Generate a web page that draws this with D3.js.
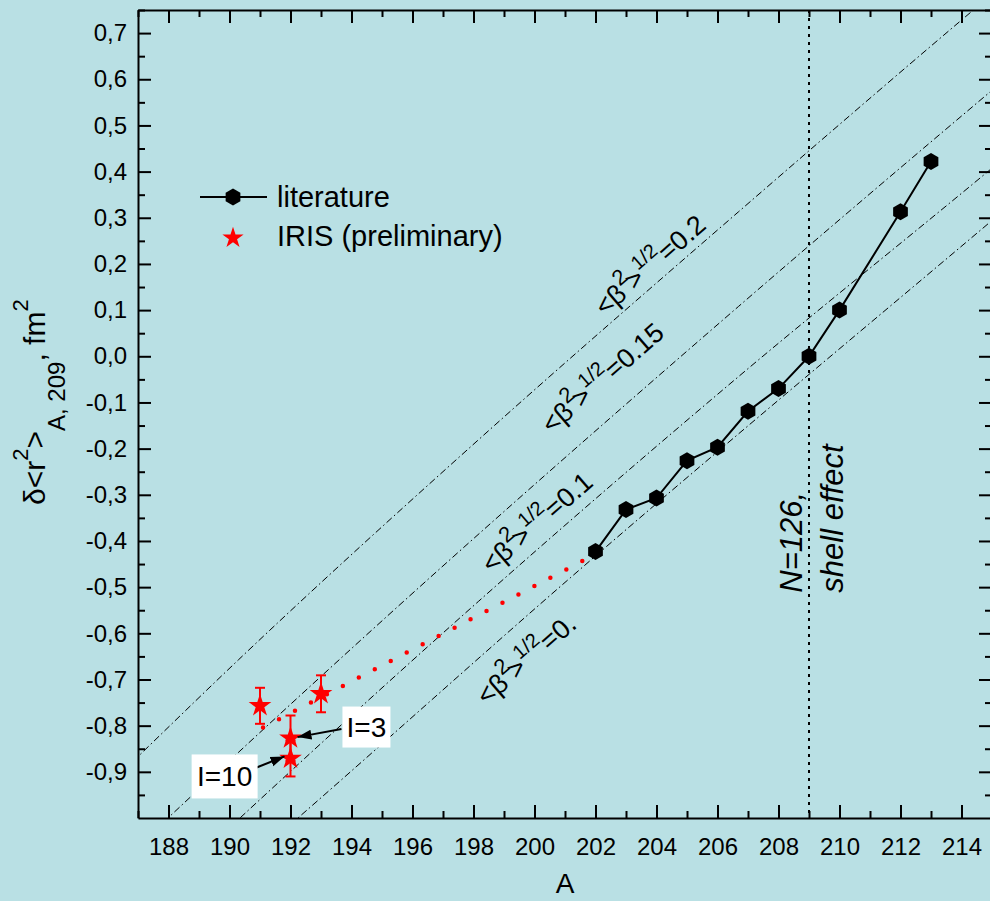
<!DOCTYPE html>
<html lang="en">
<head>
<meta charset="UTF-8">
<title>charge radii</title>
<style>
  body { margin: 0; background: #b9e0e4; }
  svg { display: block; font-family: "Liberation Sans", Arial, sans-serif; }
  .axis path, .axis line { stroke: #000; stroke-width: 2; }
  .axis text { font-family: "Liberation Sans", Arial, sans-serif; font-size: 24px; fill: #000; }
  .beta { fill: none; stroke: #000; stroke-width: 1; stroke-dasharray: 7,3,1.5,3; }
  .lbl { font-size: 27px; fill: #000; }
</style>
</head>
<body>
<svg width="990" height="901"></svg>
<script src="https://cdn.jsdelivr.net/npm/d3@7"></script>
<script>
// literature
var litA = [202, 203, 204, 205, 206, 207, 208, 209, 210, 212, 213];
var litR = [-0.423, -0.332, -0.307, -0.226, -0.197, -0.119, -0.070, 0.0, 0.100, 0.313, 0.422];

// IRIS (preliminary)
var irisA = [191, 192, 192, 193];
var irisR = [-0.757, -0.827, -0.871, -0.731];
var irisErr = [0.039, 0.049, 0.039, 0.040];

// red dotted trend
var trendA = [191.1, 201.7];
var trendR = [-0.804, -0.439];

// lines of constant <beta^2>^1/2
var betaNames = ["0.2", "0.15", "0.1", "0."];
var betaA = [
  [186.5, 187, 190.3, 198.16, 206.69, 214.39, 215.5],
  [187.5, 188, 194, 206.69, 214.89, 215.5],
  [190, 190.36, 198.16, 206.69, 214.89, 215.5],
  [192, 192.26, 201.17, 214.89, 215.5]
];
var betaR = [
  [-0.899, -0.867, -0.657, -0.181, 0.313, 0.750, 0.812],
  [-1.030, -0.999, -0.633, 0.108, 0.570, 0.604],
  [-1.021, -0.999, -0.531, -0.044, 0.4015, 0.435],
  [-1.014, -0.999, -0.480, 0.288, 0.322]
];

var xTicks = d3.range(188, 215, 2),
    xMinor = d3.range(187, 216, 2),
    yTicks = d3.range(-9, 8).map(function(i) { return i / 10; }),
    yMinor = d3.range(-19, 16, 2).map(function(i) { return i / 20; });

var svg = d3.select("svg"),
    mLeft = 138, mRight = 992, mTop = 10, mBottom = 818;

var x = d3.scaleLinear().domain([187, 215]).range([mLeft, mRight]),
    y = d3.scaleLinear().domain([-1.0, 0.75]).range([mBottom, mTop]);

svg.append("rect").attr("width", 990).attr("height", 901).attr("fill", "#b9e0e4");

var defs = svg.append("defs");
defs.append("clipPath").attr("id", "clip")
  .append("rect").attr("x", mLeft).attr("y", mTop)
  .attr("width", mRight - mLeft).attr("height", mBottom - mTop);

defs.append("marker")
  .attr("id", "head").attr("viewBox", "0 0 10 10")
  .attr("refX", 10).attr("refY", 5)
  .attr("markerWidth", 7).attr("markerHeight", 7)
  .attr("markerUnits", "strokeWidth")
  .attr("orient", "auto")
  .append("path").attr("d", "M0,1.5L10,5L0,8.5Z").attr("fill", "#000");

var plot = svg.append("g").attr("clip-path", "url(#clip)");

// beta lines
var bline = d3.line().curve(d3.curveMonotoneX)
  .x(function(d) { return x(d[0]); })
  .y(function(d) { return y(d[1]); });

betaA.forEach(function(arr, k) {
  plot.append("path").attr("class", "beta")
    .attr("d", bline(arr.map(function(a, i) { return [a, betaR[k][i]]; })));
});

// N=126 vertical
plot.append("line")
  .attr("x1", x(209)).attr("x2", x(209))
  .attr("y1", mTop).attr("y2", mBottom)
  .attr("stroke", "#000").attr("stroke-width", 2)
  .attr("stroke-dasharray", "3,5");

// red dotted trend
plot.append("path")
  .attr("d", bline(trendA.map(function(a, i) { return [a, trendR[i]]; })))
  .attr("fill", "none").attr("stroke", "#ff0000")
  .attr("stroke-width", 4.5).attr("stroke-linecap", "round")
  .attr("stroke-dasharray", "0,18");

// literature
var lit = litA.map(function(a, i) { return [a, litR[i]]; });
plot.append("path")
  .attr("d", d3.line().x(function(d) { return x(d[0]); }).y(function(d) { return y(d[1]); })(lit))
  .attr("fill", "none").attr("stroke", "#000").attr("stroke-width", 2);

var hexagon = {
  draw: function(ctx, size) {
    var r = Math.sqrt(size / (1.5 * Math.sqrt(3)));
    for (var i = 0; i < 6; i++) {
      var a = Math.PI / 3 * i - Math.PI / 2;
      if (i === 0) ctx.moveTo(r * Math.cos(a), r * Math.sin(a));
      else ctx.lineTo(r * Math.cos(a), r * Math.sin(a));
    }
    ctx.closePath();
  }
};

plot.selectAll(".hex").data(lit).enter().append("path")
  .attr("class", "hex")
  .attr("transform", function(d) { return "translate(" + x(d[0]) + "," + y(d[1]) + ")"; })
  .attr("d", d3.symbol().type(hexagon).size(188))
  .attr("fill", "#000");

// IRIS error bars + stars
var iris = irisA.map(function(a, i) { return {a: a, r: irisR[i], e: irisErr[i]}; });
var eb = plot.selectAll(".eb").data(iris).enter().append("g").attr("class", "eb")
  .attr("stroke", "#ff0000").attr("stroke-width", 2);
eb.append("line")
  .attr("x1", function(d) { return x(d.a); }).attr("x2", function(d) { return x(d.a); })
  .attr("y1", function(d) { return y(d.r - d.e); }).attr("y2", function(d) { return y(d.r + d.e); });
eb.append("line")
  .attr("x1", function(d) { return x(d.a) - 5; }).attr("x2", function(d) { return x(d.a) + 5; })
  .attr("y1", function(d) { return y(d.r + d.e); }).attr("y2", function(d) { return y(d.r + d.e); });
eb.append("line")
  .attr("x1", function(d) { return x(d.a) - 5; }).attr("x2", function(d) { return x(d.a) + 5; })
  .attr("y1", function(d) { return y(d.r - d.e); }).attr("y2", function(d) { return y(d.r - d.e); });

plot.selectAll(".star").data(iris).enter().append("path")
  .attr("class", "star")
  .attr("transform", function(d) { return "translate(" + x(d.a) + "," + y(d.r) + ")"; })
  .attr("d", d3.symbol().type(d3.symbolStar).size(160))
  .attr("fill", "#ff0000");

// I=3 / I=10 callouts
var callouts = [
  {text: "I=3", cx: 194.49, cy: -0.803, w: 48, h: 41},
  {text: "I=10", cx: 189.84, cy: -0.910, w: 66, h: 44}
];
// I=3 arrow
svg.append("line")
  .attr("x1", x(194.49) - 25).attr("y1", y(-0.803) + 2)
  .attr("x2", x(192) + 7).attr("y2", y(irisR[1]) - 1)
  .attr("stroke", "#000").attr("stroke-width", 2).attr("marker-end", "url(#head)");
// I=10 arrow
svg.append("line")
  .attr("x1", x(189.84) + 32).attr("y1", y(-0.910) - 9)
  .attr("x2", x(192) - 6).attr("y2", y(irisR[2]) - 2)
  .attr("stroke", "#000").attr("stroke-width", 2).attr("marker-end", "url(#head)");

callouts.forEach(function(c) {
  svg.append("rect")
    .attr("x", x(c.cx) - c.w / 2).attr("y", y(c.cy) - c.h / 2)
    .attr("width", c.w).attr("height", c.h).attr("fill", "#fff");
  svg.append("text")
    .attr("x", x(c.cx)).attr("y", y(c.cy) + 10)
    .attr("font-size", 28).attr("text-anchor", "middle").text(c.text);
});

// beta labels
var labelPos = [[202.30, 0.085], [200.56, -0.170], [198.59, -0.472], [198.43, -0.758]];
betaNames.forEach(function(n, k) {
  var t = svg.append("text").attr("class", "lbl")
    .attr("transform", "translate(" + x(labelPos[k][0]) + "," + y(labelPos[k][1]) + ") rotate(-41)");
  t.append("tspan").text("<\u03b2");
  t.append("tspan").attr("font-size", 22).attr("dy", -13).text("2");
  t.append("tspan").attr("dy", 13).attr("dx", -4).text(">");
  t.append("tspan").attr("font-size", 20).attr("dy", -13).text("1/2");
  t.append("tspan").attr("dy", 13).text("=" + n);
});

// shell effect
svg.append("text")
  .attr("transform", "translate(" + (x(209) - 7) + "," + y(-0.512) + ") rotate(-90)")
  .attr("font-size", 31).attr("font-style", "italic").text("N=126,");
svg.append("text")
  .attr("transform", "translate(" + (x(209) + 34) + "," + y(-0.512) + ") rotate(-90)")
  .attr("font-size", 31).attr("font-style", "italic").text("shell effect");

// legend
var lg = svg.append("g");
lg.append("line").attr("x1", 200).attr("x2", 267).attr("y1", 197).attr("y2", 197)
  .attr("stroke", "#000").attr("stroke-width", 2);
lg.append("path").attr("transform", "translate(233,197)")
  .attr("d", d3.symbol().type(hexagon).size(188)).attr("fill", "#000");
lg.append("text").attr("x", 277).attr("y", 207).attr("font-size", 29).text("literature");
lg.append("path").attr("transform", "translate(233,238)")
  .attr("d", d3.symbol().type(d3.symbolStar).size(140)).attr("fill", "#ff0000");
lg.append("text").attr("x", 277).attr("y", 246).attr("font-size", 29).text("IRIS (preliminary)");

// axes
function fmtY(v) {
  if (Math.abs(v) < 1e-9) v = 0;
  return v.toFixed(1).replace(".", ",");
}

svg.append("g").attr("class", "axis").attr("transform", "translate(0," + mBottom + ")")
  .call(d3.axisBottom(x).tickValues(xTicks).tickSizeInner(-13).tickSizeOuter(0)
    .tickPadding(20).tickFormat(d3.format("d")));
svg.append("g").attr("class", "axis").attr("transform", "translate(0," + mBottom + ")")
  .call(d3.axisBottom(x).tickValues(xMinor).tickSizeInner(-7).tickSizeOuter(0).tickFormat(""))
  .select(".domain").remove();
svg.append("g").attr("class", "axis").attr("transform", "translate(0," + mTop + ")")
  .call(d3.axisTop(x).tickValues(xTicks).tickSizeInner(-13).tickSizeOuter(0).tickFormat(""));
svg.append("g").attr("class", "axis").attr("transform", "translate(0," + mTop + ")")
  .call(d3.axisTop(x).tickValues(xMinor).tickSizeInner(-7).tickSizeOuter(0).tickFormat(""))
  .select(".domain").remove();

svg.append("g").attr("class", "axis").attr("transform", "translate(" + mLeft + ",0)")
  .call(d3.axisLeft(y).tickValues(yTicks).tickSizeInner(-13).tickSizeOuter(0)
    .tickPadding(11).tickFormat(fmtY));
svg.append("g").attr("class", "axis").attr("transform", "translate(" + mLeft + ",0)")
  .call(d3.axisLeft(y).tickValues(yMinor).tickSizeInner(-7).tickSizeOuter(0).tickFormat(""))
  .select(".domain").remove();
svg.append("g").attr("class", "axis").attr("transform", "translate(" + mRight + ",0)")
  .call(d3.axisRight(y).tickValues(yTicks).tickSizeInner(-13).tickSizeOuter(0).tickFormat(""));
svg.append("g").attr("class", "axis").attr("transform", "translate(" + mRight + ",0)")
  .call(d3.axisRight(y).tickValues(yMinor).tickSizeInner(-7).tickSizeOuter(0).tickFormat(""))
  .select(".domain").remove();

// axis titles
svg.append("text").attr("x", (mLeft + mRight) / 2).attr("y", 893)
  .attr("text-anchor", "middle").attr("font-size", 28).text("A");

var yt = svg.append("text").attr("transform", "translate(45,505) rotate(-90)").attr("font-size", 30);
yt.append("tspan").text("\u03b4<r");
yt.append("tspan").attr("font-size", 22).attr("dy", -17).text("2");
yt.append("tspan").attr("dy", 17).text(">");
yt.append("tspan").attr("font-size", 24).attr("dy", 20).text("A, 209");
yt.append("tspan").attr("dy", -20).text(",  fm");
yt.append("tspan").attr("font-size", 22).attr("dy", -17).text("2");
</script>
</body>
</html>
